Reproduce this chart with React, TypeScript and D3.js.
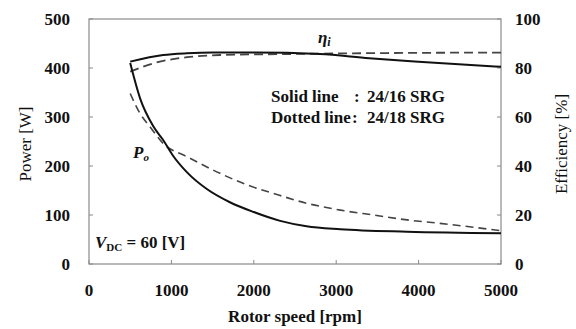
import React from "react";
import * as d3 from "d3";

// rotor speed samples [rpm]
const speedPower24_16 = [500, 620, 780, 900, 1020, 1190, 1430, 1710, 2000, 2320, 2640, 3050, 3860, 5000];
const power24_16 = [410, 338, 281, 253, 221, 187, 153, 126, 106, 88, 77, 71, 66, 63];

const speedPower24_18 = [500, 620, 740, 900, 1190, 1590, 1910, 2240, 2640, 3050, 3450, 3860, 4260, 5000];
const power24_18 = [348, 307, 280, 246, 219, 185, 162, 144, 124, 110, 100, 90, 83, 68];

const speedEff24_16 = [500, 900, 1190, 1500, 2000, 2800, 3400, 4000, 5000];
const eff24_16 = [82.6, 85.3, 86, 86.3, 86.3, 85.7, 84, 82.6, 80.5];

const speedEff24_18 = [500, 780, 1190, 1590, 2400, 3200, 5000];
const eff24_18 = [78.5, 81.9, 84.4, 85.3, 85.7, 86, 86.3];

const speedTicks = [0, 1000, 2000, 3000, 4000, 5000];
const powerTicks = [0, 100, 200, 300, 400, 500];
const effTicks = [0, 20, 40, 60, 80, 100];

const W = 576;
const H = 329;
const left = 89;
const right = 501;
const top = 19;
const bottom = 264;
const FONT = "'Liberation Serif', 'Times New Roman', serif";
const AXIS = "#8a8a8a";

export default function App() {
  const x = d3.scaleLinear().domain([0, 5000]).range([left, right]);
  const yP = d3.scaleLinear().domain([0, 500]).range([bottom, top]);
  const yE = d3.scaleLinear().domain([0, 100]).range([bottom, top]);

  const makeLine = (xs: number[], ys: number[], y: d3.ScaleLinear<number, number>) =>
    d3
      .line<number>()
      .x((_, i) => x(xs[i]))
      .y((d) => y(d))
      .curve(d3.curveMonotoneX)(ys) || "";

  const lbl = { fontFamily: FONT, fontWeight: 700, fontSize: 17, fill: "#111" } as const;

  return (
    <svg width={W} height={H} style={{ position: "absolute", left: 0, top: 0, background: "#fff" }}>
      {/* frame */}
      <rect x={left} y={top} width={right - left} height={bottom - top} fill="none" stroke={AXIS} strokeWidth={1.2} />

      {/* ticks, pointing inward */}
      {speedTicks.map((t) => (
        <line key={"xt" + t} x1={x(t)} x2={x(t)} y1={bottom} y2={bottom - 4} stroke={AXIS} />
      ))}
      {powerTicks.map((t) => (
        <line key={"yt" + t} x1={left} x2={left + 4} y1={yP(t)} y2={yP(t)} stroke={AXIS} />
      ))}
      {effTicks.map((t) => (
        <line key={"et" + t} x1={right} x2={right - 4} y1={yE(t)} y2={yE(t)} stroke={AXIS} />
      ))}

      {/* tick labels */}
      {speedTicks.map((t) => (
        <text key={"xl" + t} x={x(t)} y={296} textAnchor="middle" {...lbl}>
          {t}
        </text>
      ))}
      {powerTicks.map((t) => (
        <text key={"yl" + t} x={70} y={yP(t) + 6} textAnchor="end" {...lbl}>
          {t}
        </text>
      ))}
      {effTicks.map((t) => (
        <text key={"el" + t} x={515} y={yE(t) + 6} textAnchor="start" {...lbl}>
          {t}
        </text>
      ))}

      {/* axis titles */}
      <text x={(left + right) / 2} y={322} textAnchor="middle" {...lbl}>
        Rotor speed [rpm]
      </text>
      <text
        transform={`translate(31, 144) rotate(-90)`}
        textAnchor="middle"
        fontFamily={FONT}
        fontSize={17}
        fill="#111"
      >
        Power [W]
      </text>
      <text
        transform={`translate(567, 144) rotate(-90)`}
        textAnchor="middle"
        fontFamily={FONT}
        fontSize={17}
        fill="#111"
      >
        Efficiency [%]
      </text>

      {/* curves */}
      <path d={makeLine(speedEff24_18, eff24_18, yE)} fill="none" stroke="#444" strokeWidth={1.8} strokeDasharray="9,5" />
      <path d={makeLine(speedPower24_18, power24_18, yP)} fill="none" stroke="#444" strokeWidth={1.6} strokeDasharray="8,5" />
      <path d={makeLine(speedEff24_16, eff24_16, yE)} fill="none" stroke="#111" strokeWidth={2} />
      <path d={makeLine(speedPower24_16, power24_16, yP)} fill="none" stroke="#111" strokeWidth={2} />

      {/* annotations */}
      <text x={318} y={43} {...lbl} fontStyle="italic">
        η<tspan fontSize={12} dy={3}>i</tspan>
      </text>
      <text x={133} y={158} {...lbl} fontStyle="italic">
        P<tspan fontSize={11} dy={3}>o</tspan>
      </text>
      <text x={95} y={248} {...lbl}>
        <tspan fontStyle="italic">V</tspan>
        <tspan fontSize={11} dy={3}>DC</tspan>
        <tspan dy={-3}> = 60 [V]</tspan>
      </text>
      <text x={271} y={102} {...lbl}>Solid line</text>
      <text x={354} y={102} {...lbl}>:</text>
      <text x={367} y={102} {...lbl}>24/16 SRG</text>
      <text x={271} y={123} {...lbl}>Dotted line</text>
      <text x={352} y={123} {...lbl}>:</text>
      <text x={367} y={123} {...lbl}>24/18 SRG</text>
    </svg>
  );
}
